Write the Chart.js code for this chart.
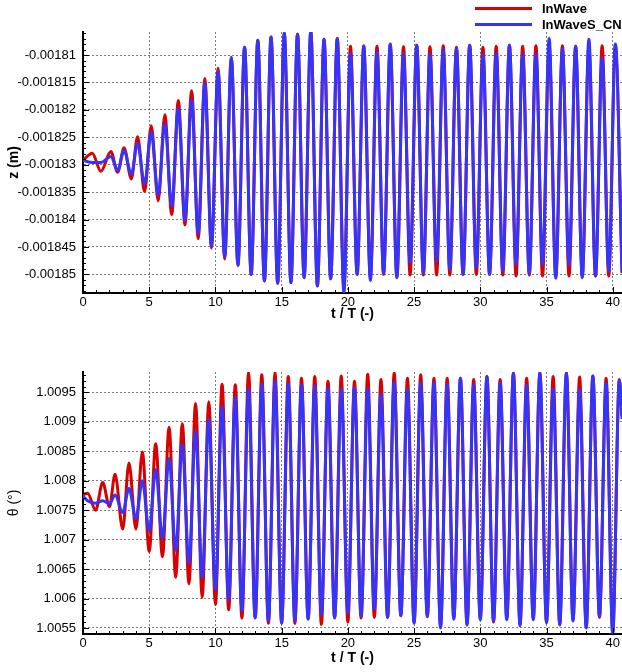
<!DOCTYPE html>
<html>
<head>
<meta charset="utf-8">
<script src="https://cdn.jsdelivr.net/npm/chart.js@4.4.1/dist/chart.umd.min.js"></script>
<style>
  body { margin: 0; background: #fff; }
  .box { position: relative; width: 622px; height: 336px; }
</style>
</head>
<body>
<div class="box"><canvas id="zChart"></canvas></div>
<div class="box"><canvas id="thetaChart"></canvas></div>
<script>
const seriesNames = ['InWave', 'InWaveS_CN'];
const tTicks = [0, 5, 10, 15, 20, 25, 30, 35, 40];
const zTicks = [-0.00185, -0.001845, -0.00184, -0.001835, -0.00183, -0.001825, -0.00182, -0.001815, -0.00181];
const thetaTicks = [1.0055, 1.006, 1.0065, 1.007, 1.0075, 1.008, 1.0085, 1.009, 1.0095];

// z (m): peaks / troughs
const zT = [0, 0.7, 1.35, 2.1, 2.62, 3.1, 3.65, 4.12, 4.65, 5.15, 5.68, 6.18,
  6.7, 7.2, 7.7, 8.2, 8.7, 9.2, 9.7, 10.2, 10.7, 11.2, 11.7, 12.2, 12.7, 13.2, 13.7, 14.2, 14.7,
  15.2, 15.7, 16.2, 16.7, 17.2, 17.7, 18.2, 18.7, 19.2, 19.7, 20.2, 20.7, 21.2, 21.7, 22.2, 22.7,
  23.2, 23.7, 24.2, 24.7, 25.2, 25.7, 26.2, 26.7, 27.2, 27.7, 28.2, 28.7, 29.2, 29.7, 30.2, 30.7,
  31.2, 31.7, 32.2, 32.7, 33.2, 33.7, 34.2, 34.7, 35.2, 35.7, 36.2, 36.7, 37.2, 37.7, 38.2, 38.7,
  39.2, 39.7, 40.2, 40.7];
const zRed = [-0.0018292, -0.0018279, -0.0018312, -0.0018276, -0.0018314, -0.0018269, -0.0018326, -0.0018249, -0.0018349, -0.0018229, -0.0018366, -0.0018209,
  -0.0018391, -0.0018183, -0.0018410, -0.0018165, -0.0018435, -0.0018143, -0.0018452, -0.0018124, -0.0018472, -0.0018104, -0.0018484, -0.0018086, -0.0018500, -0.0018073, -0.0018512, -0.0018067, -0.0018516,
  -0.0018060, -0.0018515, -0.0018062, -0.0018506, -0.0018057, -0.0018521, -0.0018071, -0.0018508, -0.0018070, -0.0018525, -0.0018084, -0.0018500, -0.0018084, -0.0018505, -0.0018084, -0.0018500,
  -0.0018081, -0.0018504, -0.0018085, -0.0018501, -0.0018082, -0.0018501, -0.0018085, -0.0018501, -0.0018083, -0.0018501, -0.0018086, -0.0018500, -0.0018082, -0.0018500, -0.0018086, -0.0018500,
  -0.0018084, -0.0018501, -0.0018082, -0.0018503, -0.0018084, -0.0018501, -0.0018083, -0.0018503, -0.0018085, -0.0018503, -0.0018083, -0.0018503, -0.0018084, -0.0018503, -0.0018083, -0.0018503,
  -0.0018083, -0.0018503, -0.0018082, -0.0018498];
const zBlue = [-0.0018292, -0.0018296, -0.0018296, -0.0018285, -0.0018310, -0.0018274, -0.0018317, -0.0018261, -0.0018335, -0.0018241, -0.0018355, -0.0018225,
  -0.0018376, -0.0018197, -0.0018401, -0.0018182, -0.0018425, -0.0018151, -0.0018449, -0.0018130, -0.0018469, -0.0018104, -0.0018483, -0.0018086, -0.0018500, -0.0018073, -0.0018512, -0.0018067, -0.0018516,
  -0.0018060, -0.0018515, -0.0018062, -0.0018506, -0.0018057, -0.0018521, -0.0018071, -0.0018508, -0.0018070, -0.0018533, -0.0018097, -0.0018500, -0.0018083, -0.0018511, -0.0018094, -0.0018498,
  -0.0018080, -0.0018506, -0.0018098, -0.0018479, -0.0018082, -0.0018498, -0.0018098, -0.0018477, -0.0018090, -0.0018491, -0.0018089, -0.0018500, -0.0018082, -0.0018488, -0.0018098, -0.0018500,
  -0.0018097, -0.0018493, -0.0018082, -0.0018482, -0.0018098, -0.0018498, -0.0018098, -0.0018482, -0.0018070, -0.0018507, -0.0018089, -0.0018482, -0.0018084, -0.0018506, -0.0018071, -0.0018503,
  -0.0018105, -0.0018494, -0.0018080, -0.0018495];

// theta (deg): peaks / troughs
const thT = [0, 0.35, 0.95, 1.49, 2, 2.42, 3, 3.47, 4, 4.48, 5, 5.49,
  6, 6.5, 7, 7.5, 8, 8.5, 9, 9.5, 10, 10.5, 11, 11.5, 12, 12.5, 13, 13.5, 14, 14.5,
  15, 15.5, 16, 16.5, 17, 17.5, 18, 18.5, 19, 19.5, 20, 20.5, 21, 21.5, 22, 22.5,
  23, 23.5, 24, 24.5, 25, 25.5, 26, 26.5, 27, 27.5, 28, 28.5, 29, 29.5, 30, 30.5,
  31, 31.5, 32, 32.5, 33, 33.5, 34, 34.5, 35, 35.5, 36, 36.5, 37, 37.5, 38, 38.5,
  39, 39.5, 40, 40.5, 40.7];
const thRed = [1.00776, 1.00779, 1.00750, 1.00797, 1.00756, 1.00811, 1.00718, 1.00830, 1.00718, 1.00849, 1.00680, 1.00863,
  1.00671, 1.00891, 1.00636, 1.00897, 1.00625, 1.00931, 1.00602, 1.00934, 1.00590, 1.00964, 1.00581, 1.00963, 1.00567, 1.00985, 1.00568, 1.00980, 1.00558, 1.00985,
  1.00560, 1.00977, 1.00558, 1.00974, 1.00566, 1.00977, 1.00556, 1.00969, 1.00568, 1.00978, 1.00560, 1.00969, 1.00567, 1.00981, 1.00568, 1.00972,
  1.00568, 1.00983, 1.00571, 1.00974, 1.00560, 1.00980, 1.00571, 1.00974, 1.00553, 1.00974, 1.00567, 1.00974, 1.00557, 1.00972, 1.00566, 1.00977,
  1.00560, 1.00972, 1.00566, 1.00983, 1.00556, 1.00974, 1.00566, 1.00985, 1.00561, 1.00977, 1.00557, 1.00985, 1.00564, 1.00976, 1.00552, 1.00978,
  1.00568, 1.00974, 1.00543, 1.00972, 1.00910];
const thBlue = [1.00774, 1.00766, 1.00762, 1.00766, 1.00761, 1.00776, 1.00746, 1.00787, 1.00736, 1.00800, 1.00715, 1.00819,
  1.00702, 1.00838, 1.00682, 1.00861, 1.00660, 1.00884, 1.00636, 1.00905, 1.00615, 1.00926, 1.00597, 1.00942, 1.00579, 1.00956, 1.00567, 1.00964, 1.00562, 1.00969,
  1.00558, 1.00965, 1.00562, 1.00963, 1.00565, 1.00961, 1.00573, 1.00957, 1.00567, 1.00956, 1.00576, 1.00958, 1.00571, 1.00956, 1.00582, 1.00947,
  1.00568, 1.00967, 1.00571, 1.00955, 1.00558, 1.00966, 1.00569, 1.00967, 1.00550, 1.00964, 1.00565, 1.00974, 1.00555, 1.00963, 1.00564, 1.00977,
  1.00562, 1.00966, 1.00564, 1.00983, 1.00554, 1.00962, 1.00564, 1.00985, 1.00559, 1.00956, 1.00555, 1.00985, 1.00562, 1.00955, 1.00550, 1.00978,
  1.00570, 1.00966, 1.00541, 1.00971, 1.00905];

const RED = '#d80000';
const BLUE = '#3434ff';
const FONT = "'Liberation Sans', Arial, sans-serif";

// tecplot style ticks: pointing into the plot, minor ticks between majors
const innerTicks = {
  id: 'innerTicks',
  afterDatasetsDraw(chart, args, opts) {
    const { ctx, chartArea: a, scales: { x, y } } = chart;
    ctx.save();
    ctx.strokeStyle = '#000';
    ctx.lineWidth = 1;
    ctx.beginPath();
    const kx0 = Math.ceil(x.min / opts.xStep), kx1 = Math.floor(x.max / opts.xStep);
    for (let k = kx0; k <= kx1; k++) {
      const px = Math.round(x.getPixelForValue(k * opts.xStep)) + 0.5;
      const len = k % 5 === 0 ? 6 : 3;
      ctx.moveTo(px, a.bottom);
      ctx.lineTo(px, a.bottom - len);
    }
    const ky0 = Math.ceil(y.min / opts.yStep - 1e-6), ky1 = Math.floor(y.max / opts.yStep + 1e-6);
    for (let k = ky0; k <= ky1; k++) {
      const py = Math.round(y.getPixelForValue(k * opts.yStep)) + 0.5;
      const len = k % 5 === 0 ? 6 : 3;
      ctx.moveTo(a.left, py);
      ctx.lineTo(a.left + len, py);
    }
    ctx.stroke();
    ctx.restore();
  }
};

const lineLegend = {
  id: 'lineLegend',
  afterDraw(chart, args, opts) {
    if (!opts.show) return;
    const { ctx } = chart;
    ctx.save();
    ctx.font = 'bold 13px ' + FONT;
    ctx.textBaseline = 'middle';
    ctx.fillStyle = '#000';
    chart.data.datasets.slice().sort((p, q) => p.legendPos - q.legendPos).forEach((ds, i) => {
      const yy = 8.5 + i * 16;
      ctx.strokeStyle = ds.borderColor;
      ctx.lineWidth = 3;
      ctx.beginPath();
      ctx.moveTo(475, yy);
      ctx.lineTo(532, yy);
      ctx.stroke();
      ctx.fillText(ds.label, 542, yy + 0.5);
    });
    ctx.restore();
  }
};

function buildChart(id, cfg) {
  return new Chart(document.getElementById(id), {
    type: 'line',
    data: {
      datasets: [
        { label: seriesNames[1], legendPos: 1, order: 0, data: cfg.t.map((t, i) => ({ x: t, y: cfg.blue[i] })),
          borderColor: BLUE, borderWidth: 3, pointRadius: 0, cubicInterpolationMode: 'monotone', fill: false },
        { label: seriesNames[0], legendPos: 0, order: 1, data: cfg.t.map((t, i) => ({ x: t, y: cfg.red[i] })),
          borderColor: RED, borderWidth: 3, pointRadius: 0, cubicInterpolationMode: 'monotone', fill: false }
      ]
    },
    options: {
      responsive: true,
      maintainAspectRatio: false,
      animation: false,
      layout: { padding: { top: cfg.padTop, left: 0, right: 0, bottom: 0 } },
      plugins: {
        legend: { display: false },
        tooltip: { enabled: false },
        innerTicks: { xStep: 1, yStep: cfg.yMinor },
        lineLegend: { show: cfg.legend }
      },
      scales: {
        x: {
          type: 'linear', min: 0, max: 40.7,
          afterBuildTicks: s => { s.ticks = tTicks.map(v => ({ value: v })); },
          afterFit: s => { s.height = cfg.xHeight; },
          ticks: { color: '#000', font: { family: FONT, size: 13 }, padding: 2, maxRotation: 0, autoSkip: false, callback: v => String(v) },
          grid: { color: '#7d7d7d', lineWidth: 1, drawTicks: false },
          border: { display: true, color: '#000', width: 2, dash: [2, 2] },
          title: { display: true, text: 't / T (-)', color: '#000', font: { family: FONT, size: 14, weight: 'bold' }, padding: { top: 0, bottom: cfg.xTitlePad } }
        },
        y: {
          type: 'linear', min: cfg.yMin, max: cfg.yMax,
          afterBuildTicks: s => { s.ticks = cfg.yTicks.map(v => ({ value: v })); },
          afterFit: s => { s.width = 83; },
          ticks: { color: '#000', font: { family: FONT, size: 13 }, padding: 7, autoSkip: false, callback: v => String(v) },
          grid: { color: '#7d7d7d', lineWidth: 1, drawTicks: false },
          border: { display: true, color: '#000', width: 2, dash: [2, 2] },
          title: { display: true, text: cfg.yTitle, color: '#000', font: { family: FONT, size: 14, weight: cfg.yTitleWeight }, padding: { top: 6, bottom: 0 } }
        }
      }
    },
    plugins: [innerTicks, lineLegend]
  });
}

buildChart('zChart', {
  t: zT, red: zRed, blue: zBlue,
  yMin: -0.0018534, yMax: -0.0018058, yTicks: zTicks, yMinor: 0.000001,
  yTitle: 'z (m)', yTitleWeight: 'bold',
  padTop: 32, xHeight: 43, xTitlePad: 13, legend: true
});

buildChart('thetaChart', {
  t: thT, red: thRed, blue: thBlue,
  yMin: 1.005398, yMax: 1.009847, yTicks: thetaTicks, yMinor: 0.0001,
  yTitle: 'θ (°)', yTitleWeight: 'normal',
  padTop: 36, xHeight: 38, xTitlePad: 5, legend: false
});
</script>
</body>
</html>
